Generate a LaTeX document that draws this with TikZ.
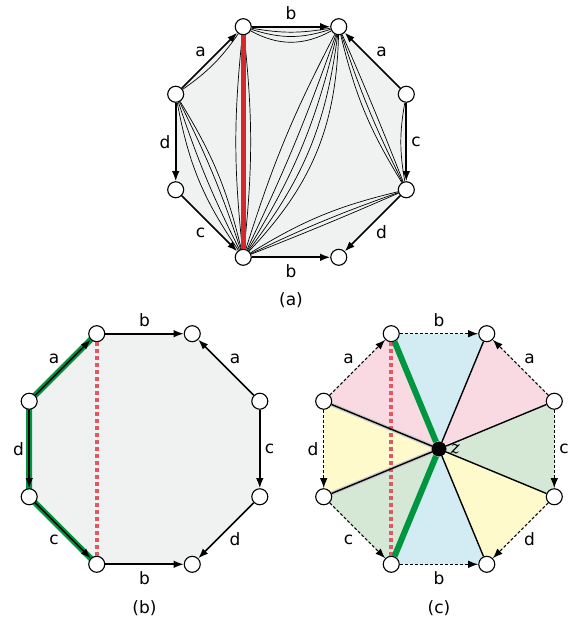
\documentclass[tikz,border=0pt]{standalone}
\usepackage{fontspec}
\setmainfont{DejaVu Sans}
\newfontfamily\ptfont{DejaVu Serif}
\usetikzlibrary{arrows.meta,positioning,calc,backgrounds}
\definecolor{polyfill}{RGB}{240,242,242}
\definecolor{chordred}{RGB}{214,40,44}
\definecolor{cutred}{RGB}{226,88,98}
\definecolor{pathgreen}{RGB}{0,150,64}
\definecolor{wedgeblue}{RGB}{211,236,243}
\definecolor{wedgepink}{RGB}{249,218,227}
\definecolor{wedgegreen}{RGB}{213,232,214}
\definecolor{wedgeyellow}{RGB}{255,250,204}

\tikzset{
  vert/.style={circle, draw, fill=white, line width=1.1pt, minimum size=16pt, inner sep=0pt},
  side/.style={line width=1.6pt, -{Latex[length=10pt,width=7.5pt]}},
  dside/.style={line width=1.1pt, dash pattern=on 3pt off 2pt, -{Latex[length=10pt,width=7.5pt]}},
  chord/.style={line width=0.7pt},
  spoke/.style={line width=1.4pt},
  lab/.style={font=\fontsize{17}{20}\selectfont},
}

\begin{document}
\begin{tikzpicture}[x=1pt,y=1pt]
\useasboundingbox (0,0) rectangle (574,625);
\coordinate (ca) at (291,483);
\coordinate (cb) at (144.5,176);
\coordinate (cc) at (439,176);

% octagon vertices, 1 = top left, then clockwise
\foreach \o in {a,b,c}{
  \foreach \i/\ang in {1/112.5,2/67.5,3/22.5,4/-22.5,5/-67.5,6/-112.5,7/-157.5,8/157.5}{
    \node[vert] (\o\i) at ($(c\o)+(\ang:124.8)$) {};
  }
}
\node[circle, fill=black, minimum size=15pt, inner sep=0pt] (z) at (cc) {};
\node[right=4pt of z, inner sep=0pt, font=\ptfont\itshape\fontsize{17}{20}\selectfont] (zlab) {z};

\begin{scope}[on background layer]
  \foreach \o in {a,b}
    \fill[polyfill] (\o1.center) -- (\o2.center) -- (\o3.center) -- (\o4.center)
      -- (\o5.center) -- (\o6.center) -- (\o7.center) -- (\o8.center) -- cycle;
  \foreach \s/\t/\col in {1/2/wedgeblue,2/3/wedgepink,3/4/wedgegreen,4/5/wedgeyellow,
                          5/6/wedgeblue,6/7/wedgegreen,7/8/wedgeyellow,8/1/wedgepink}
    \fill[\col] (z.center) -- (c\s.center) -- (c\t.center) -- cycle;
  \draw[pathgreen, line width=6pt, line join=round] (b1.center) -- (b8.center) -- (b7.center) -- (b6.center);
  \foreach \i in {7,8}
    \draw[black!20, line width=4pt] (z.center) -- (c\i.center);
\end{scope}

% (a): chords
\foreach \s/\t/\bend in {1/2/-10,1/2/-18,1/2/-29,8/1/-10,1/6/6,1/6/-6,
    8/6/-12,8/6/-4,8/6/4,8/6/9,2/6/-5,2/6/3,2/6/9,2/6/15,2/6/21,
    2/4/-9,2/4/-4,2/4/1,3/4/-10,4/6/-9,4/6/-3,4/6/1}
  \draw[chord] (a\s) to[bend left=\bend] (a\t);
\draw[chordred, line width=5pt] (a1) -- (a6);

% (b) and (c): cut
\draw[cutred, line width=4pt, dash pattern=on 4pt off 3pt] (b1) -- (b6);
\draw[cutred, line width=4pt, dash pattern=on 4pt off 3pt] (c1) -- (c6);

% (c): spokes
\draw[pathgreen, line width=6pt] (z) -- (c1);
\draw[pathgreen, line width=6pt] (z) -- (c6);
\foreach \i in {2,3,4,5,7,8}
  \draw[spoke] (z) -- (c\i);

% sides and labels
\foreach \o in {a,b,c}{
  \foreach \ang/\txt/\r in {90/b/129,45/a/128,0/c/125,-45/d/128,-90/b/129,-135/c/128,180/d/126,135/a/128}
    \node[lab] (l\o\ang) at ($(c\o)+(\ang:\r)$) {\txt};
}
\foreach \o in {a,b}
  \foreach \s/\t in {8/1,1/2,3/2,3/4,4/5,6/5,7/6,8/7}
    \draw[side] (\o\s) -- (\o\t);
\foreach \s/\t in {8/1,1/2,3/2,3/4,4/5,6/5,7/6,8/7}
  \draw[dside] (c\s) -- (c\t);

\node[lab] (capa) at (291,325) {(a)};
\node[lab] (capb) at (144.5,17) {(b)};
\node[lab] (capc) at (439,17) {(c)};
\end{tikzpicture}
\end{document}
